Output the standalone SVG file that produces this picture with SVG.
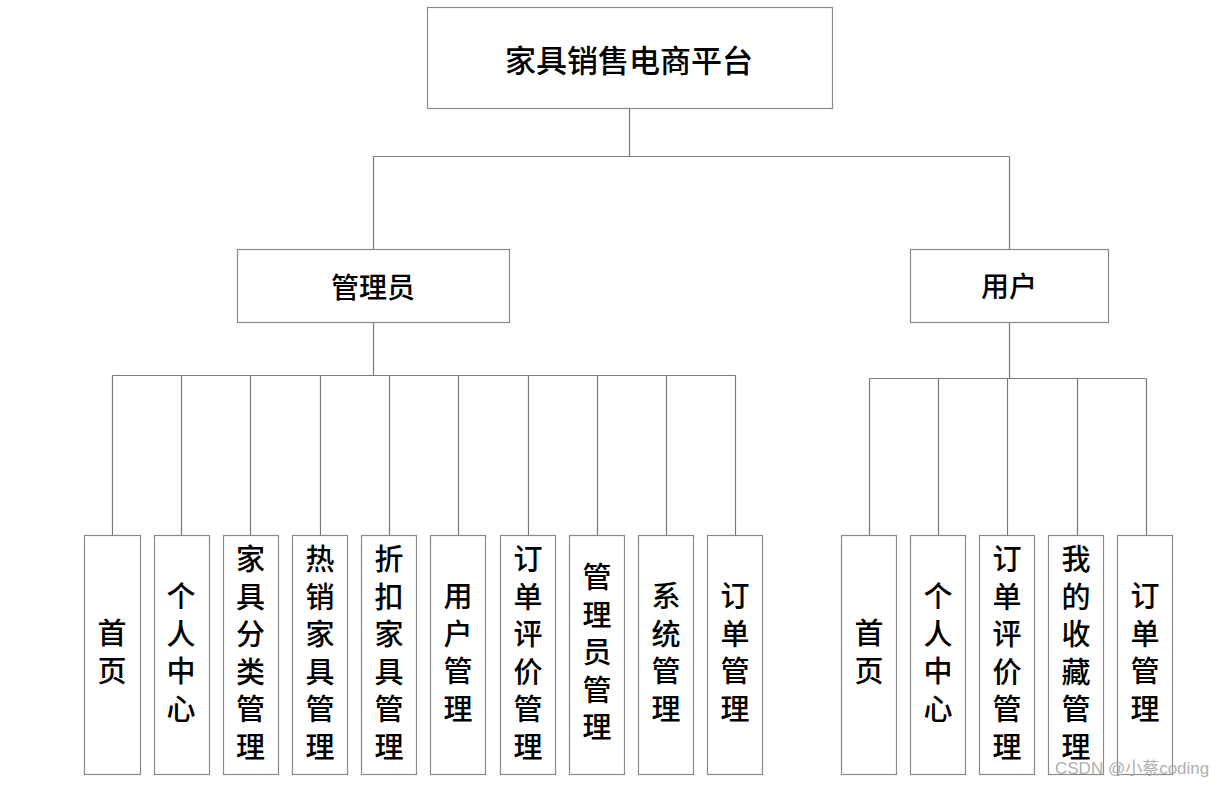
<svg xmlns="http://www.w3.org/2000/svg" width="1224" height="786" viewBox="0 0 1224 786">
<style>
.box{fill:#fff;stroke:#8a8a8a;stroke-width:1.2}
.ln{stroke:#7a7a7a;stroke-width:1.2;fill:none}
text{font-family:"Noto Sans CJK SC","Noto Sans",sans-serif;font-weight:500;fill:#000;text-anchor:middle;dominant-baseline:central}
.t1{font-size:31px}
.t2{font-size:28px}
.lf{font-size:29px;font-family:"Liberation Sans","Noto Sans CJK SC",sans-serif}
.wm{font-family:"Liberation Sans","Noto Sans CJK SC",sans-serif;font-size:17px;fill:#b0b0b0;font-weight:400;text-anchor:start}
</style>
<rect width="1224" height="786" fill="#fff"/>
<g id="connectors">
<path class="ln" d="M629.5 108V156.5M373.5 156.5H1009.5M373.5 156.5V249M1009.5 156.5V249"/>
<path class="ln" d="M373.5 322V375.5M112.5 375.5H735.5M112.5 375.5V535M181.5 375.5V535M250.5 375.5V535M320.5 375.5V535M389.5 375.5V535M458.5 375.5V535M528.5 375.5V535M597.5 375.5V535M666.5 375.5V535M735.5 375.5V535"/>
<path class="ln" d="M1009.5 322V378.5M869.5 378.5H1146.5M869.5 378.5V535M938.5 378.5V535M1007.5 378.5V535M1077.5 378.5V535M1146.5 378.5V535"/>
</g>
<g id="root"><rect class="box" x="427.5" y="7.5" width="405" height="101"/><text class="t1" x="629" y="58">家具销售电商平台</text></g>
<g id="admin"><rect class="box" x="237.5" y="249.5" width="272" height="73"/><text class="t2" x="373" y="286">管理员</text></g>
<g id="user"><rect class="box" x="910.5" y="249.5" width="198" height="73"/><text class="t2" x="1009" y="285">用户</text></g>
<g id="a1"><rect class="box" x="84.5" y="535.5" width="56" height="239"/><text class="lf"><tspan x="112" y="634">首</tspan><tspan x="112" y="672">页</tspan></text></g>
<g id="a2"><rect class="box" x="154.5" y="535.5" width="55" height="239"/><text class="lf"><tspan x="181" y="597">个</tspan><tspan x="181" y="634.5">人</tspan><tspan x="181" y="672">中</tspan><tspan x="181" y="709.5">心</tspan></text></g>
<g id="a3"><rect class="box" x="223.5" y="535.5" width="55" height="239"/><text class="lf"><tspan x="250.5" y="560">家</tspan><tspan x="250.5" y="597.5">具</tspan><tspan x="250.5" y="635">分</tspan><tspan x="250.5" y="672.5">类</tspan><tspan x="250.5" y="710">管</tspan><tspan x="250.5" y="747.5">理</tspan></text></g>
<g id="a4"><rect class="box" x="292.5" y="535.5" width="55" height="239"/><text class="lf"><tspan x="320" y="560">热</tspan><tspan x="320" y="597.5">销</tspan><tspan x="320" y="635">家</tspan><tspan x="320" y="672.5">具</tspan><tspan x="320" y="710">管</tspan><tspan x="320" y="747.5">理</tspan></text></g>
<g id="a5"><rect class="box" x="361.5" y="535.5" width="55" height="239"/><text class="lf"><tspan x="389" y="560">折</tspan><tspan x="389" y="597.5">扣</tspan><tspan x="389" y="635">家</tspan><tspan x="389" y="672.5">具</tspan><tspan x="389" y="710">管</tspan><tspan x="389" y="747.5">理</tspan></text></g>
<g id="a6"><rect class="box" x="430.5" y="535.5" width="55" height="239"/><text class="lf"><tspan x="458" y="597">用</tspan><tspan x="458" y="634.5">户</tspan><tspan x="458" y="672">管</tspan><tspan x="458" y="709.5">理</tspan></text></g>
<g id="a7"><rect class="box" x="500.5" y="535.5" width="55" height="239"/><text class="lf"><tspan x="528" y="560">订</tspan><tspan x="528" y="597.5">单</tspan><tspan x="528" y="635">评</tspan><tspan x="528" y="672.5">价</tspan><tspan x="528" y="710">管</tspan><tspan x="528" y="747.5">理</tspan></text></g>
<g id="a8"><rect class="box" x="569.5" y="535.5" width="55" height="239"/><text class="lf"><tspan x="597" y="578">管</tspan><tspan x="597" y="615.5">理</tspan><tspan x="597" y="653">员</tspan><tspan x="597" y="690.5">管</tspan><tspan x="597" y="728">理</tspan></text></g>
<g id="a9"><rect class="box" x="638.5" y="535.5" width="55" height="239"/><text class="lf"><tspan x="666" y="597">系</tspan><tspan x="666" y="634.5">统</tspan><tspan x="666" y="672">管</tspan><tspan x="666" y="709.5">理</tspan></text></g>
<g id="a10"><rect class="box" x="707.5" y="535.5" width="55" height="239"/><text class="lf"><tspan x="735" y="597">订</tspan><tspan x="735" y="634.5">单</tspan><tspan x="735" y="672">管</tspan><tspan x="735" y="709.5">理</tspan></text></g>
<g id="u1"><rect class="box" x="841.5" y="535.5" width="55" height="239"/><text class="lf"><tspan x="869" y="634">首</tspan><tspan x="869" y="672">页</tspan></text></g>
<g id="u2"><rect class="box" x="910.5" y="535.5" width="55" height="239"/><text class="lf"><tspan x="938" y="597">个</tspan><tspan x="938" y="634.5">人</tspan><tspan x="938" y="672">中</tspan><tspan x="938" y="709.5">心</tspan></text></g>
<g id="u3"><rect class="box" x="979.5" y="535.5" width="55" height="239"/><text class="lf"><tspan x="1007" y="560">订</tspan><tspan x="1007" y="597.5">单</tspan><tspan x="1007" y="635">评</tspan><tspan x="1007" y="672.5">价</tspan><tspan x="1007" y="710">管</tspan><tspan x="1007" y="747.5">理</tspan></text></g>
<g id="u4"><rect class="box" x="1048.5" y="535.5" width="55" height="239"/><text class="lf"><tspan x="1076" y="560">我</tspan><tspan x="1076" y="597.5">的</tspan><tspan x="1076" y="635">收</tspan><tspan x="1076" y="672.5">藏</tspan><tspan x="1076" y="710">管</tspan><tspan x="1076" y="747.5">理</tspan></text></g>
<g id="u5"><rect class="box" x="1117.5" y="535.5" width="55" height="239"/><text class="lf"><tspan x="1145" y="597">订</tspan><tspan x="1145" y="634.5">单</tspan><tspan x="1145" y="672">管</tspan><tspan x="1145" y="709.5">理</tspan></text></g>
<text class="wm" x="1055" y="768">CSDN @小蔡coding</text>
</svg>
